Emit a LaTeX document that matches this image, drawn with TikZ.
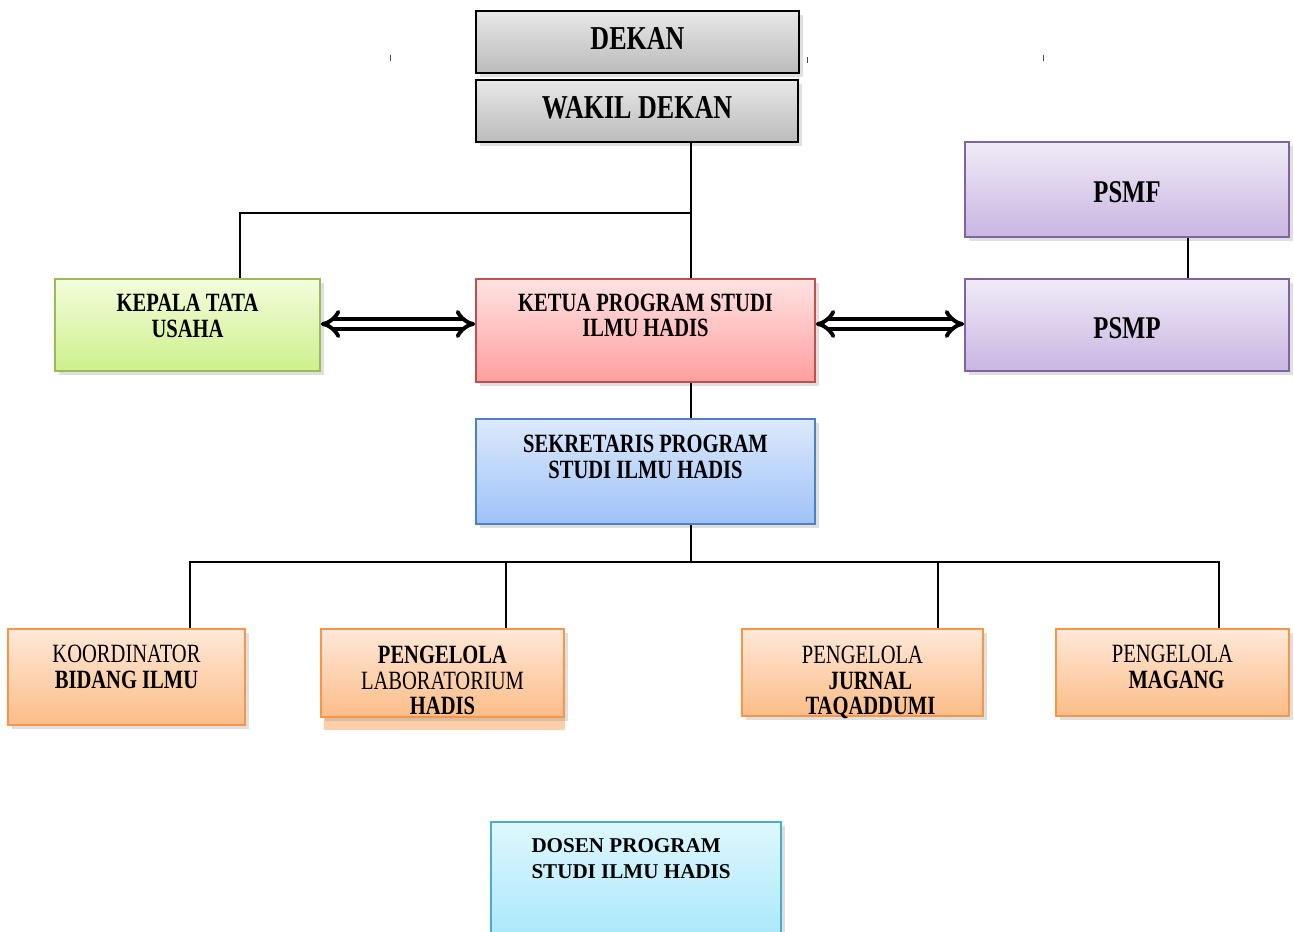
\documentclass[tikz,border=0pt]{standalone}
\usepackage{fontspec}
\setmainfont{Liberation Serif}
\newfontfamily\narrowfont{Liberation Serif}[FakeStretch=0.78]
\usetikzlibrary{arrows.meta,shadows,positioning}

\definecolor{greyTop}{HTML}{E8E8E8}
\definecolor{greyBot}{HTML}{BBBBBB}
\definecolor{greenTop}{HTML}{F4FCDC}
\definecolor{greenBot}{HTML}{CDF08C}
\definecolor{greenLine}{HTML}{9BBB59}
\definecolor{redTop}{HTML}{FFE3E3}
\definecolor{redBot}{HTML}{FF9E9E}
\definecolor{redLine}{HTML}{C0504D}
\definecolor{blueTop}{HTML}{DCE9FC}
\definecolor{blueBot}{HTML}{9EC2F7}
\definecolor{blueLine}{HTML}{4F81BD}
\definecolor{purpleTop}{HTML}{F0EBF7}
\definecolor{purpleBot}{HTML}{C9B5E2}
\definecolor{purpleLine}{HTML}{8064A2}
\definecolor{orangeTop}{HTML}{FFE8D8}
\definecolor{orangeBot}{HTML}{FBBD88}
\definecolor{orangeLine}{HTML}{F79646}
\definecolor{cyanTop}{HTML}{DFF7FE}
\definecolor{cyanBot}{HTML}{A0E5FA}
\definecolor{cyanLine}{HTML}{4BACC6}

\tikzset{
  box/.style={draw, line width=1pt, inner sep=0pt,
    drop shadow={shadow xshift=2.5pt, shadow yshift=-2.5pt, opacity=0.25}},
  greybox/.style={box, draw=black, top color=greyTop, bottom color=greyBot},
  greenbox/.style={box, draw=greenLine, top color=greenTop, bottom color=greenBot},
  redbox/.style={box, draw=redLine, top color=redTop, bottom color=redBot},
  bluebox/.style={box, draw=blueLine, top color=blueTop, bottom color=blueBot},
  purplebox/.style={box, draw=purpleLine, top color=purpleTop, bottom color=purpleBot},
  orangebox/.style={box, draw=orangeLine, top color=orangeTop, bottom color=orangeBot},
  cyanbox/.style={box, draw=cyanLine, top color=cyanTop, bottom color=cyanBot},
  txt/.style={anchor=north, inner sep=0pt, align=center,
    font=\narrowfont\bfseries\fontsize{15}{14.5}\selectfont},
  bigtxt/.style={txt, font=\narrowfont\bfseries\fontsize{19}{19}\selectfont},
  link/.style={line width=0.9pt},
  twoway/.style={double, double distance=3pt, line width=2.2pt, {Implies}-{Implies}}
}

\begin{document}
\begin{tikzpicture}[x=0.02cm, y=-0.02cm]
  \useasboundingbox (0,0) rectangle (1294,932);
  % small marks at the top
  \foreach \x/\y in {390/55, 807/57, 1043/55}
    \draw[line width=0.5pt, black!70] (\x,\y) -- ++(0,6);

  % pimpinan
  \node[greybox, minimum width=6.46cm, minimum height=1.24cm] (dekan) at (637.5,42) {};
  \node[greybox, minimum width=6.44cm, minimum height=1.24cm] (wadek) at (637,111) {};
  \node[bigtxt] (dekan-t) at ([yshift=-0.34cm]dekan.north) {DEKAN};
  \node[bigtxt] (wadek-t) at ([yshift=-0.34cm]wadek.north) {WAKIL DEKAN};

  % PSMF / PSMP
  \node[purplebox, minimum width=6.48cm, minimum height=1.9cm] (psmf) at (1127,189.5) {};
  \node[purplebox, minimum width=6.48cm, minimum height=1.84cm] (psmp) at (1127,325) {};
  \node[txt, font=\narrowfont\bfseries\fontsize{18}{18}\selectfont] (psmf-t) at ([yshift=-0.8cm]psmf.north) {PSMF};
  \node[txt, font=\narrowfont\bfseries\fontsize{18}{18}\selectfont] (psmp-t) at ([yshift=-0.78cm]psmp.north) {PSMP};

  % tengah
  \node[greenbox, minimum width=5.3cm, minimum height=1.84cm] (ktu) at (187.5,325) {};
  \node[redbox, minimum width=6.78cm, minimum height=2.06cm] (kaprodi) at (645.5,330.5) {};
  \node[bluebox, minimum width=6.78cm, minimum height=2.1cm] (sekprodi) at (645.5,471.5) {};
  \node[txt] (ktu-t) at ([yshift=-0.32cm]ktu.north) {KEPALA TATA\\USAHA};
  \node[txt] (kaprodi-t) at ([yshift=-0.31cm]kaprodi.north) {KETUA PROGRAM STUDI\\ILMU HADIS};
  \node[txt] (sekprodi-t) at ([yshift=-0.34cm]sekprodi.north) {SEKRETARIS PROGRAM\\STUDI ILMU HADIS};

  % pengelola
  \fill[orangeBot!80, opacity=0.9] (324,640) rectangle (565,730);
  \node[orangebox, minimum width=4.74cm, minimum height=1.92cm] (koord) at (126.5,677) {};
  \node[orangebox, minimum width=4.86cm, minimum height=1.76cm] (lab) at (442.5,673) {};
  \node[orangebox, minimum width=4.82cm, minimum height=1.74cm] (jurnal) at (862.5,672.5) {};
  \node[orangebox, minimum width=4.66cm, minimum height=1.74cm] (magang) at (1172.5,672.5) {};
  \node[txt] (koord-t) at ([yshift=-0.34cm]koord.north) {\mdseries KOORDINATOR\\BIDANG ILMU};
  \node[txt] (lab-t) at ([yshift=-0.36cm]lab.north) {PENGELOLA\\\mdseries LABORATORIUM\\HADIS};
  \node[txt] (jurnal-t) at ([yshift=-0.36cm]jurnal.north) {\mdseries PENGELOLA\\\hspace*{0.6em}JURNAL\\\hspace*{0.6em}TAQADDUMI};
  \node[txt] (magang-t) at ([yshift=-0.34cm]magang.north) {\mdseries PENGELOLA\\\hspace*{0.3em}MAGANG};

  % dosen
  \node[cyanbox, minimum width=5.8cm, minimum height=2.76cm] (dosen) at (636,891) {};
  \node[txt, align=left, font=\bfseries\fontsize{12}{14.7}\selectfont, anchor=north west]
    (dosen-t) at ([xshift=0.82cm, yshift=-0.34cm]dosen.north west) {DOSEN PROGRAM\\STUDI ILMU HADIS};

  % garis komando
  \coordinate (j1) at (691,213);
  \coordinate (j2) at (691,562);
  \draw[link] (wadek.south -| j1) -- (kaprodi.north -| j1);
  \draw[link] (j1) -| ([xshift=1.05cm]ktu.north);
  \draw[link] (kaprodi.south -| j1) -- (sekprodi.north -| j1);
  \draw[link] (sekprodi.south -| j2) -- (j2);
  \draw[link] ([xshift=1.27cm]koord.north) |- (j2) -| ([xshift=0.93cm]magang.north);
  \draw[link] ([xshift=1.27cm]lab.north) -- ([xshift=1.27cm]lab.north |- j2);
  \draw[link] ([xshift=1.51cm]jurnal.north) -- ([xshift=1.51cm]jurnal.north |- j2);
  \draw[link] ([xshift=1.22cm]psmf.south) -- ([xshift=1.22cm]psmp.north);

  % koordinasi
  \draw[twoway] ([yshift=0.02cm]ktu.east) -- ([yshift=0.02cm]ktu.east -| kaprodi.west);
  \draw[twoway] ([yshift=0.02cm]psmp.west -| kaprodi.east) -- ([yshift=0.02cm]psmp.west);
\end{tikzpicture}
\end{document}
